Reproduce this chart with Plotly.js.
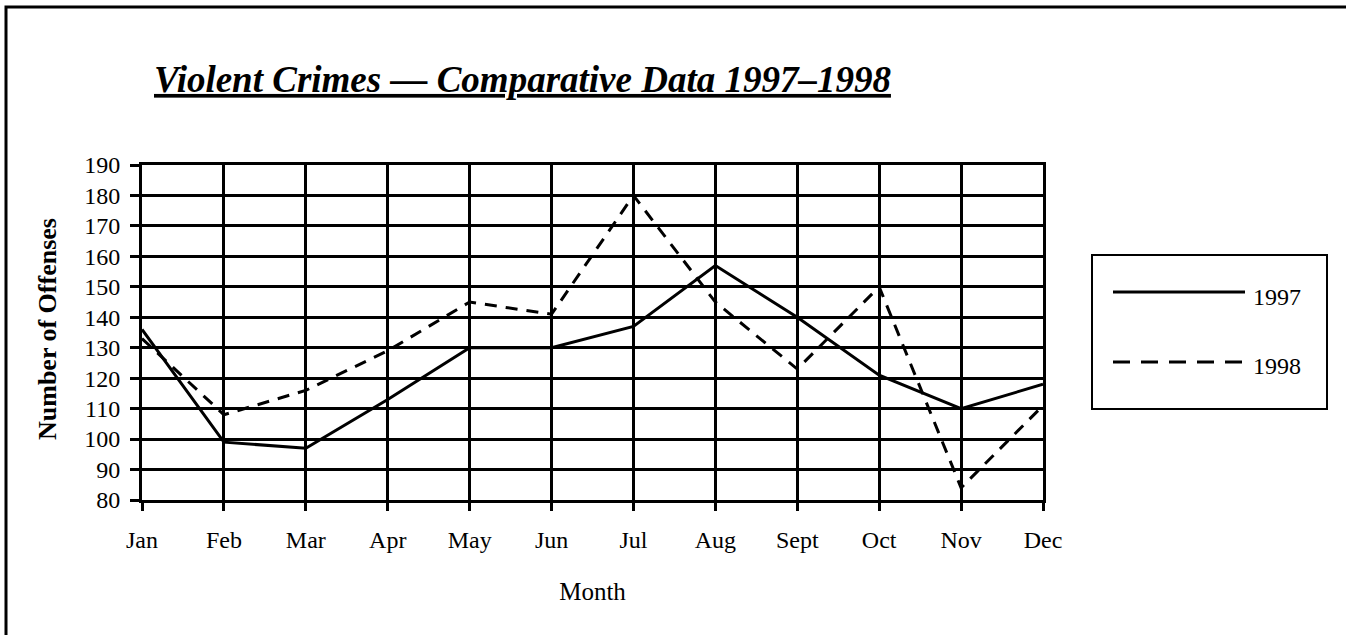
<!DOCTYPE html>
<html>
<head>
<meta charset="utf-8">
<script src="https://cdn.plot.ly/plotly-3.0.1.min.js"></script>
<style>html,body{margin:0;padding:0;background:#fff;}#chart{width:1346px;height:635px;}</style>
</head>
<body>
<div id="chart"></div>
<script>
const months = ["Jan","Feb","Mar","Apr","May","Jun","Jul","Aug","Sept","Oct","Nov","Dec"];
const series1997 = [136, 99, 97, 113, 130, 130, 137, 157, 140, 121, 110, 118];
const series1998 = [133, 108, 116, 129, 145, 141, 180, 145, 123, 150, 84, 111];
const seriesNames = ["1997", "1998"];
const yTicks = [80, 90, 100, 110, 120, 130, 140, 150, 160, 170, 180, 190];

const W = 1346, H = 635;
const ML = 142, MR = 303, MT = 165, MB = 135;
const PW = W - ML - MR, PH = H - MT - MB;
const FONT = "Liberation Serif";
// pixel -> plot-area paper fraction
const px = v => (v - ML) / PW;
const py = v => (H - MB - v) / PH;

const traces = [
  {x: months, y: series1997, name: seriesNames[0], type: "scatter", mode: "lines",
   line: {color: "#000", width: 3, dash: "solid"}},
  {x: months, y: series1998, name: seriesNames[1], type: "scatter", mode: "lines",
   line: {color: "#000", width: 3, dash: "12px,9px"}}
];

const legL = 1092, legR = 1327, legT = 255, legB = 409;
const shapes = [
  {type: "rect", xref: "paper", yref: "paper", x0: px(6), x1: px(1400), y0: py(7), y1: py(700),
   line: {color: "#000", width: 3}, fillcolor: "rgba(0,0,0,0)", layer: "above"},
  {type: "rect", xref: "paper", yref: "paper", x0: px(legL), x1: px(legR), y0: py(legT), y1: py(legB),
   line: {color: "#000", width: 2}, fillcolor: "#fff"},
  {type: "line", xref: "paper", yref: "paper", x0: px(1113), x1: px(1245), y0: py(292), y1: py(292),
   line: {color: "#000", width: 3, dash: "solid"}},
  {type: "line", xref: "paper", yref: "paper", x0: px(1113), x1: px(1245), y0: py(362), y1: py(362),
   line: {color: "#000", width: 3, dash: "17px,11px"}}
];

const annotations = [
  {text: seriesNames[0], xref: "paper", yref: "paper", x: px(1251), y: py(297), xanchor: "left", yanchor: "middle",
   showarrow: false, font: {family: FONT, size: 24, color: "#000"}},
  {text: seriesNames[1], xref: "paper", yref: "paper", x: px(1251), y: py(366), xanchor: "left", yanchor: "middle",
   showarrow: false, font: {family: FONT, size: 24, color: "#000"}},
  {text: "<b>Number of Offenses</b>", xref: "paper", yref: "paper", x: px(47), y: py(329),
   xanchor: "center", yanchor: "middle", textangle: -90, showarrow: false,
   font: {family: FONT, size: 26, color: "#000"}}
];

const layout = {
  width: W, height: H,
  paper_bgcolor: "#fff", plot_bgcolor: "#fff",
  margin: {l: ML, r: MR, t: MT, b: MB, pad: 0},
  showlegend: false,
  title: {
    text: "<u>Violent Crimes — Comparative Data 1997–1998</u>",
    font: {family: FONT, size: 37, color: "#000", weight: "bold", style: "italic"},
    x: 154 / W, xanchor: "left", xref: "container",
    y: 1 - 79 / H, yanchor: "middle", yref: "container"
  },
  xaxis: {
    type: "category", range: [0, 11],
    showgrid: true, gridcolor: "#000", gridwidth: 3,
    showline: true, mirror: true, linecolor: "#000", linewidth: 3,
    ticks: "outside", ticklen: 8, tickwidth: 3, tickcolor: "#000",
    ticklabelstandoff: 8,
    tickfont: {family: FONT, size: 24, color: "#000"},
    zeroline: false,
    title: {text: "Month", font: {family: FONT, size: 25, color: "#000"}, standoff: 31}
  },
  yaxis: {
    range: [80, 190], tickvals: yTicks, ticktext: yTicks.map(String),
    showgrid: true, gridcolor: "#000", gridwidth: 3,
    showline: true, mirror: true, linecolor: "#000", linewidth: 3,
    ticks: "outside", ticklen: 9, tickwidth: 3, tickcolor: "#000",
    ticklabelstandoff: 5,
    tickfont: {family: FONT, size: 24, color: "#000"},
    zeroline: false
  },
  shapes: shapes,
  annotations: annotations
};

Plotly.newPlot("chart", traces, layout, {displayModeBar: false, staticPlot: true});
</script>
</body>
</html>
